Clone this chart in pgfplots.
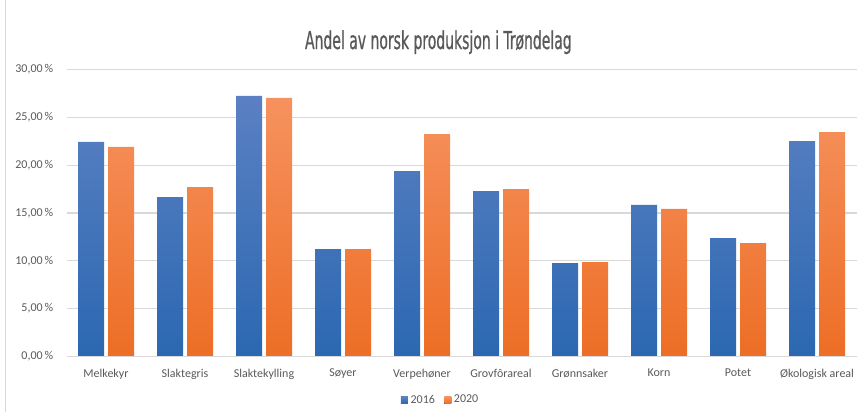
\documentclass[border=0pt]{standalone}
\usepackage{pgfplots}
\pgfplotsset{compat=1.18}
\usepackage{fontspec}
\setmainfont{Carlito}
\newfontfamily\titlefont[FakeStretch=0.63,FakeBold=0.6]{DejaVu Sans Condensed}
\definecolor{txt}{HTML}{595959}
\definecolor{gridc}{HTML}{D9D9D9}
\definecolor{bluetop}{HTML}{5B80C3}
\definecolor{bluebot}{HTML}{2B68B1}
\definecolor{ortop}{HTML}{F6925F}
\definecolor{orbot}{HTML}{ED6E25}
\begin{document}
\begin{tikzpicture}
\useasboundingbox (0,0) rectangle (644.25pt,309pt);
\draw[gridc, line width=0.75pt] (3.75pt,0) -- (3.75pt,309pt);
\node[anchor=base, text=txt, font=\titlefont\fontsize{18.5}{20}\selectfont, inner sep=0pt] at (328.8pt,272.25pt) {Andel av norsk produksjon i Trøndelag};
\begin{axis}[
  at={(49.875pt,41.775pt)}, anchor=south west,
  scale only axis, width=592.5pt, height=215.1pt,
  ybar=3pt, bar width=19.5pt,
  xmin=-0.5, xmax=9.5, ymin=0, ymax=30,
  xtick=data,
  xticklabels={Melkekyr,Slaktegris,Slaktekylling,Søyer,Verpehøner,Grovfôrareal,Grønnsaker,Korn,Potet,Økologisk areal},
  ytick={0,5,10,15,20,25,30},
  yticklabel={\pgfmathprintnumber[fixed,fixed zerofill,precision=2,use comma]{\tick}\,\%},
  /pgf/number format/assume math mode=true,
  major tick length=0pt,
  axis line style={draw=none},
  ymajorgrids, grid style={gridc, line width=0.9pt},
  tick label style={font=\fontsize{9}{11}\selectfont, text=txt},
  y tick label style={xshift=-6.4pt},
  x tick label style={yshift=-6pt},
  legend style={draw=none, fill=none, at={(0.474,-0.1525)}, anchor=center, legend columns=2, font=\fontsize{9}{11}\selectfont, text=txt, /tikz/every even column/.append style={column sep=5pt}},
  legend image code/.code={\fill[#1] (0pt,-2.6pt) rectangle (5.25pt,2.6pt);},
  clip=false,
]
\addplot[draw=none, top color=bluetop, bottom color=bluebot] coordinates {(0,22.42) (1,16.66) (2,27.23) (3,11.22) (4,19.38) (5,17.29) (6,9.76) (7,15.83) (8,12.37) (9,22.52)};
\addplot[draw=none, top color=ortop, bottom color=orbot] coordinates {(0,21.90) (1,17.70) (2,27.02) (3,11.22) (4,23.25) (5,17.50) (6,9.86) (7,15.41) (8,11.85) (9,23.46)};
\draw[gridc, line width=0.9pt] (rel axis cs:0,0) -- (rel axis cs:1,0);
\legend{2016,2020}
\end{axis}
\end{tikzpicture}
\end{document}
